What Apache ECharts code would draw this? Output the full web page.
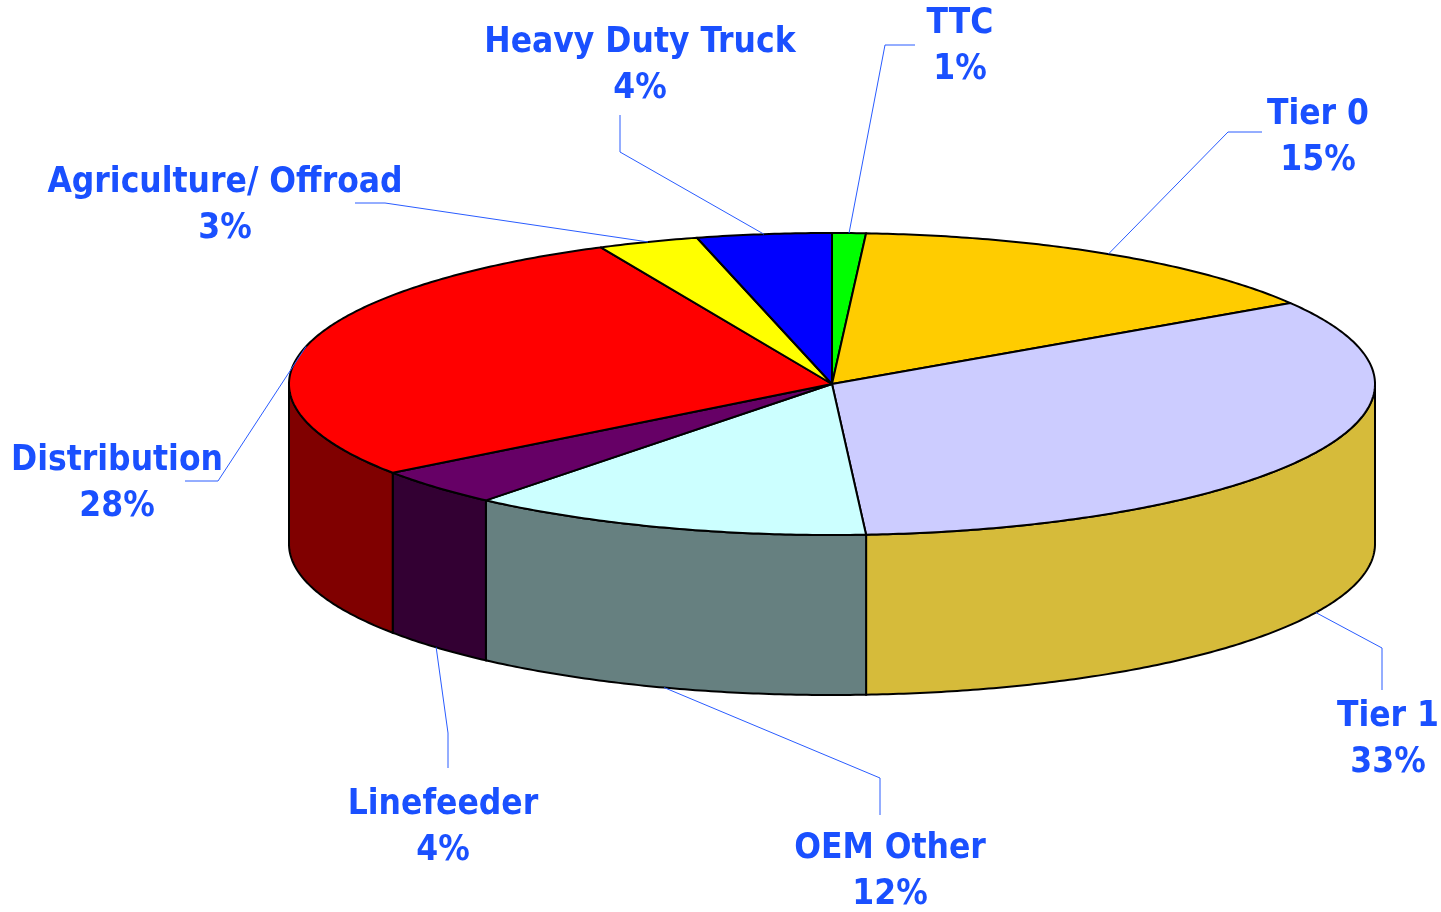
<!DOCTYPE html>
<html>
<head>
    <meta charset="utf-8">
    <title>3D pie</title>
    <style>
        html, body { margin: 0; padding: 0; background: #fff; }
        #chart { width: 1441px; height: 912px; }
    </style>
</head>
<body>
    <div id="chart"></div>
    <script src="https://cdn.jsdelivr.net/npm/echarts@6/dist/echarts.min.js"></script>
    <script>
        // 数据：从12点方向开始顺时针
        var names = ['TTC', 'Tier 0', 'Tier 1', 'OEM Other', 'Linefeeder', 'Distribution', 'Agriculture/ Offroad', 'Heavy Duty Truck'];
        var values = [1, 15, 33, 12, 4, 28, 3, 4];
        var topColors = ['#00ff00', '#ffcc00', '#ccccff', '#ccffff', '#660066', '#ff0000', '#ffff00', '#0000ff'];
        var sideColors = ['#00aa00', '#b38f00', '#d6bb3a', '#668080', '#330033', '#800000', '#b3b300', '#000080'];

        // 标签位置（版面）
        var labelAt = [[960, 47], [1318, 138], [1388, 740], [890, 872], [443, 828], [117, 484], [225, 206], [640, 66]];
        var elbowAt = [[885, 45], [1228, 132], [1382, 648], [880, 778], [448, 733], [218, 481], [385, 203], [620, 152]];
        var leaderEnd = [[915, 45], [1262, 132], [1382, 690], [880, 815], [448, 768], [185, 481], [355, 203], [620, 115]];

        var cx = 832, cy = 384, rx = 543, ry = 151, depth = 160;
        var labelColor = '#1a50ff';

        var total = values.reduce(function (a, b) { return a + b; }, 0);
        var angles = [];
        var acc = 0;
        values.forEach(function (v) {
            var a0 = acc / total * Math.PI * 2;
            acc += v;
            angles.push([a0, acc / total * Math.PI * 2]);
        });

        function pt(t, dy) {
            return [cx + rx * Math.sin(t), cy - ry * Math.cos(t) + (dy || 0)];
        }
        function arc(a, b, dy) {
            var n = Math.max(2, Math.ceil(Math.abs(b - a) / 0.01));
            var pts = [];
            for (var i = 0; i <= n; i++) pts.push(pt(a + (b - a) * i / n, dy));
            return pts;
        }

        function renderItem(params, api) {
            var i = params.dataIndex;
            var a0 = angles[i][0], a1 = angles[i][1];
            var children = [];
            // 侧面（只画前半圈）
            var s = Math.max(a0, Math.PI / 2), e = Math.min(a1, Math.PI * 1.5);
            if (s < e) {
                var wall = arc(s, e, 0).concat(arc(e, s, depth));
                children.push({
                    type: 'polygon', z2: 1,
                    shape: { points: wall },
                    style: { fill: sideColors[i], stroke: '#000', lineWidth: 2 }
                });
            }
            // 顶面
            children.push({
                type: 'polygon', z2: 5,
                shape: { points: [[cx, cy]].concat(arc(a0, a1, 0)) },
                style: { fill: topColors[i], stroke: '#000', lineWidth: 2, lineJoin: 'round' }
            });
            // 引导线
            var mid = (a0 + a1) / 2;
            var front = mid > Math.PI / 2 && mid < Math.PI * 1.5;
            var anchor = pt(mid, front ? depth : 0);
            children.push({
                type: 'polyline', z2: 8,
                shape: { points: [anchor, elbowAt[i], leaderEnd[i]] },
                style: { fill: null, stroke: '#2a5cff', lineWidth: 1 }
            });
            // 标签
            children.push({
                type: 'text', z2: 10,
                x: labelAt[i][0], y: labelAt[i][1],
                style: {
                    text: names[i] + '\n' + api.value(0) + '%',
                    fill: labelColor,
                    font: 'bold 35px "DejaVu Sans Condensed", "DejaVu Sans", sans-serif',
                    align: 'center',
                    verticalAlign: 'middle',
                    lineHeight: 46
                }
            });
            return { type: 'group', children: children };
        }

        var chart = echarts.init(document.getElementById('chart'));
        chart.setOption({
            animation: false,
            backgroundColor: '#ffffff',
            series: [{
                type: 'custom',
                coordinateSystem: 'none',
                renderItem: renderItem,
                data: values.map(function (v) { return [v]; })
            }]
        });
    </script>
</body>
</html>
